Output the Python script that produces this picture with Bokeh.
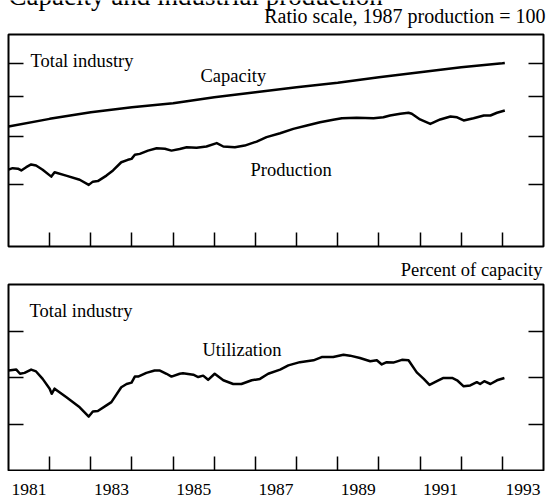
import math
from bokeh.plotting import figure
from bokeh.models import Range1d, FixedTicker, LinearAxis, LogAxis, Label
from bokeh.core.properties import value
from bokeh.layouts import column
from bokeh.embed import file_html
from bokeh.resources import INLINE

# ---------------- data ----------------
cap_years = [1981, 1982, 1983, 1984, 1985, 1986, 1987, 1988, 1989, 1990, 1991, 1992, 1993, 1993.06]
capacity = [104.5, 108.3, 111.7, 114.3, 116.4, 119.7, 122.5, 125.4, 128.0, 131.3, 134.4, 137.5, 140.1, 140.3]

prod_years = [1981.00, 1981.10, 1981.23, 1981.31, 1981.43, 1981.55, 1981.67, 1981.83,
              1982.04, 1982.12, 1982.40, 1982.73, 1982.95,
              1983.05, 1983.17, 1983.38, 1983.54, 1983.74, 1983.90, 1983.99,
              1984.07, 1984.19, 1984.39, 1984.60, 1984.80, 1984.96,
              1985.16, 1985.33, 1985.57, 1985.81,
              1986.06, 1986.22, 1986.50, 1986.74,
              1987.03, 1987.27, 1987.60, 1987.92,
              1988.25, 1988.57, 1988.89,
              1989.10, 1989.46, 1989.87,
              1990.11, 1990.27, 1990.52, 1990.72, 1990.80,
              1991.00, 1991.25, 1991.49, 1991.74, 1991.90,
              1992.06, 1992.30, 1992.55, 1992.71, 1992.87, 1993.06]
production = [85.6, 86.2, 86.0, 85.3, 86.6, 87.7, 87.3, 85.6,
              82.9, 84.6, 83.3, 81.7, 79.8,
              81.0, 81.2, 83.3, 85.3, 88.6, 89.6, 90.0,
              91.7, 92.1, 93.5, 94.5, 94.3, 93.5,
              94.2, 95.0, 94.7, 95.3,
              96.8, 95.3, 95.0, 95.7,
              97.5, 99.5, 101.3, 103.4,
              105.0, 106.6, 107.8,
              108.6, 108.8, 108.6,
              109.1, 110.0, 110.9, 111.4, 110.9,
              108.0, 105.8, 108.0, 109.5, 109.1,
              107.5, 108.6, 110.0, 110.0, 111.4, 112.6]

util_years = [1981.00, 1981.19, 1981.28, 1981.39, 1981.55, 1981.67, 1981.83,
              1982.00, 1982.05, 1982.12, 1982.40, 1982.73, 1982.95,
              1983.05, 1983.17, 1983.38, 1983.50, 1983.74, 1983.87, 1983.99,
              1984.07, 1984.15, 1984.35, 1984.55, 1984.68, 1984.84, 1984.96,
              1985.16, 1985.24, 1985.49, 1985.61, 1985.73, 1985.85,
              1986.01, 1986.22, 1986.46, 1986.66, 1986.91,
              1987.11, 1987.31, 1987.60, 1987.80,
              1988.08, 1988.41, 1988.61, 1988.89,
              1989.14, 1989.30, 1989.54, 1989.79, 1989.95,
              1990.07, 1990.19, 1990.35, 1990.56, 1990.72, 1990.92,
              1991.09, 1991.23, 1991.41, 1991.57, 1991.78, 1991.90,
              1992.06, 1992.22, 1992.38, 1992.46, 1992.56, 1992.71, 1992.87, 1993.05]
utilization = [81.5, 81.7, 80.8, 81.0, 81.7, 81.3, 79.7,
               77.6, 76.5, 77.6, 75.8, 73.6, 71.6,
               72.7, 72.8, 74.0, 74.7, 77.9, 78.6, 78.9,
               80.2, 80.2, 81.0, 81.5, 81.5, 80.8, 80.2,
               80.8, 80.9, 80.6, 80.1, 80.4, 79.5,
               80.8, 79.4, 78.6, 78.6, 79.4,
               79.7, 80.8, 81.7, 82.6,
               83.3, 83.7, 84.4, 84.4,
               84.9, 84.7, 84.2, 83.5, 83.7,
               82.8, 83.3, 83.2, 83.8, 83.7, 81.1,
               79.7, 78.4, 79.2, 79.9, 79.9, 79.4,
               78.1, 78.3, 79.0, 78.6, 79.2, 78.6, 79.4, 79.9]

tick_years = [1982, 1983, 1984, 1985, 1986, 1987, 1988, 1989, 1990, 1991, 1992, 1993]
year_labels = ["1981", "1983", "1985", "1987", "1989", "1991", "1993"]
prod_ticks = [80, 100, 120, 140]
util_ticks = [70, 80, 90]

# ---------------- geometry ----------------
FONT = "Liberation Serif"
LEFT, FW, RIGHT = 8, 535, 4
X0, X1 = 1981, 1994
P_LO, P_HI = 60, 160
U_LO, U_HI = 60, 100
SHIFT = 0.34     # measured: "alphabetic" text lands ~0.34 em below the requested baseline

H1 = 33
T_TOP, T_H, T_BOT = 1, 212, 12
H2 = 24
B_TOP, B_H, B_BOT = 2, 186, 1
H3 = 25


def xd(px):
    return X0 + (px - LEFT) * (X1 - X0) / FW


def strip(h):
    p = figure(frame_width=FW + RIGHT, frame_height=h,
               min_border_left=LEFT, min_border_right=0,
               min_border_top=0, min_border_bottom=0,
               x_range=Range1d(X0, xd(LEFT + FW + RIGHT)), y_range=Range1d(h, 0),
               x_axis_location=None, y_axis_location=None,
               output_backend="svg", toolbar_location=None)
    p.xgrid.visible = False
    p.ygrid.visible = False
    p.outline_line_color = None
    p.background_fill_color = "white"
    p.border_fill_color = "white"
    return p


def make_fig(ymin, ymax, ytype, top, h, bot):
    p = figure(frame_width=FW, frame_height=h, min_border_left=LEFT, min_border_right=RIGHT,
               min_border_top=top, min_border_bottom=bot,
               x_range=Range1d(X0, X1), y_range=Range1d(ymin, ymax), y_axis_type=ytype,
               x_axis_location=None, y_axis_location=None,
               output_backend="svg", toolbar_location=None)
    p.xgrid.visible = False
    p.ygrid.visible = False
    p.outline_line_color = "black"
    p.outline_line_width = 2
    p.outline_line_alpha = 1
    p.background_fill_color = "white"
    p.border_fill_color = "white"
    return p


def style_axis(ax, tick_len):
    ax.axis_line_color = None
    ax.major_tick_in = tick_len
    ax.major_tick_out = 0
    ax.minor_tick_in = 0
    ax.minor_tick_out = 0
    ax.major_tick_line_color = "black"
    ax.major_tick_line_width = 1.5
    ax.major_label_text_font_size = "0px"
    ax.major_label_text_color = None
    ax.major_label_text_alpha = 0
    ax.major_label_standoff = 0


def add_axes(p, yticks, log):
    xb = LinearAxis(ticker=FixedTicker(ticks=tick_years))
    style_axis(xb, 14)
    p.add_layout(xb, "below")
    for loc in ("left", "right"):
        ax = LogAxis(ticker=FixedTicker(ticks=yticks)) if log else LinearAxis(ticker=FixedTicker(ticks=yticks))
        style_axis(ax, 15)
        p.add_layout(ax, loc)


def txt(p, x, base, text, size=18.5, align="left", use_offset=False):
    if use_offset:
        y, yo = base, -SHIFT * size
    else:
        y, yo = base - SHIFT * size, 0
    p.text(x=[x], y=[y], text=[text], y_offset=yo, text_font=value(FONT),
           text_font_size=value(f"{size}px"), text_align=align,
           text_baseline="alphabetic", text_color="black")


def lab(p, x, y, text, size=18.5, align="left"):
    p.add_layout(Label(x=x, y=y, text=text, text_font=FONT, text_font_size=f"{size}px",
                       text_align=align, text_baseline="alphabetic", text_color="black"))


def ytop(py):
    fy = H1 + T_TOP
    return P_HI * math.exp((fy - py) * math.log(P_HI / P_LO) / T_H)


def ybot(py):
    fy = H1 + T_TOP + T_H + T_BOT + H2 + B_TOP
    return U_HI - (py - fy) * (U_HI - U_LO) / B_H


def sh(size=18.5):
    return SHIFT * size


# ---------------- header ----------------
h1 = strip(H1)
txt(h1, xd(8), 5, "Capacity and industrial production", size=27, use_offset=True)
txt(h1, xd(545), 22, "Ratio scale, 1987 production = 100", size=20, align="right")

# ---------------- top panel ----------------
p1 = make_fig(P_LO, P_HI, "log", T_TOP, T_H, T_BOT)
add_axes(p1, prod_ticks, True)
p1.line(cap_years, capacity, line_width=2.5, color="black", line_join="round")
p1.line(prod_years, production, line_width=2.5, color="black", line_join="round")
lab(p1, xd(30), ytop(67 - sh()), "Total industry")
lab(p1, xd(200), ytop(82 - sh()), "Capacity")
lab(p1, xd(250), ytop(176 - sh()), "Production")

# ---------------- middle strip ----------------
h2 = strip(H2)
h2_top = H1 + T_TOP + T_H + T_BOT
txt(h2, xd(542), 275.5 - h2_top, "Percent of capacity", align="right")

# ---------------- bottom panel ----------------
p2 = make_fig(U_LO, U_HI, "linear", B_TOP, B_H, B_BOT)
add_axes(p2, util_ticks, False)
p2.line(util_years, utilization, line_width=2.5, color="black", line_join="round")
lab(p2, xd(29), ybot(317 - sh()), "Total industry")
lab(p2, xd(202), ybot(356 - sh()), "Utilization")

# ---------------- footer with the year labels ----------------
h3 = strip(H3)
label_x = [int(s) + 0.5 for s in year_labels]
h3.text(x=label_x, y=[24 - sh(17.5)] * len(year_labels), text=year_labels, text_font=value(FONT),
        text_font_size=value("17.5px"), text_align="center", text_baseline="alphabetic",
        text_color="black")

layout = column(h1, p1, h2, p2, h3)

open("out.html", "w").write(file_html(layout, INLINE))
